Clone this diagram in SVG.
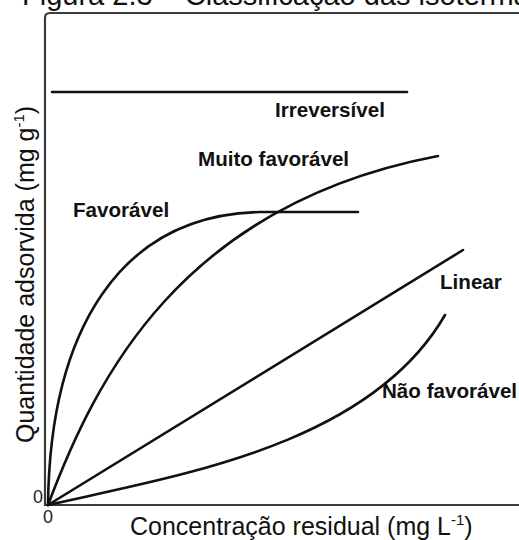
<svg xmlns="http://www.w3.org/2000/svg" width="519" height="540" viewBox="0 0 519 540">
<style>
.axis{fill:none;stroke:#3a3a3a;stroke-width:2.2;}
.curve{fill:none;stroke:#111;stroke-width:2.6;stroke-linecap:round;}
.lbl{font-family:"Liberation Sans",Arial,sans-serif;font-weight:bold;font-size:20.6px;fill:#111;}
.ax{font-family:"Liberation Sans",Arial,sans-serif;font-size:25px;fill:#111;}
.zero{font-family:"Liberation Sans",Arial,sans-serif;font-size:18px;fill:#222;}
.title{font-family:"Liberation Sans",Arial,sans-serif;font-size:29px;fill:#111;}
</style>
<text class="title" x="22" y="5">Figura 2.3 – Classificação das isotermas.</text>
<g id="axes">
<path class="axis" d="M519,13 L50,13 Q45,13 45,18 L45,505 L519,505"/>
</g>
<g id="connectors">
<path id="irreversivel-curve" class="curve" d="M52,92 L407,92"/>
<path id="favoravel-curve" class="curve" d="M48,505 C50,330 120,215 260,212 L358,212"/>
<path id="muito-curve" class="curve" d="M48,505 C95,380 180,205 438,156"/>
<path id="linear-curve" class="curve" d="M48,505 L463,250"/>
<path id="nao-curve" class="curve" d="M48,505 C180,475 370,445 445,315"/>
</g>
<g id="irreversivel"><text class="lbl" x="275" y="117">Irreversível</text></g>
<g id="muito-favoravel"><text class="lbl" x="198" y="166">Muito favorável</text></g>
<g id="favoravel"><text class="lbl" x="73" y="217">Favorável</text></g>
<g id="linear"><text class="lbl" x="440" y="289">Linear</text></g>
<g id="nao-favoravel"><text class="lbl" x="382" y="398">Não favorável</text></g>
<text class="zero" x="33" y="503">0</text>
<text class="zero" x="43" y="523">0</text>
<text class="ax" x="130" y="535">Concentração residual (mg L<tspan font-size="15" dy="-10">-1</tspan><tspan dy="10">)</tspan></text>
<text class="ax" transform="translate(34,443) rotate(-90)">Quantidade adsorvida (mg g<tspan font-size="15" dy="-10">-1</tspan><tspan dy="10">)</tspan></text>
</svg>
